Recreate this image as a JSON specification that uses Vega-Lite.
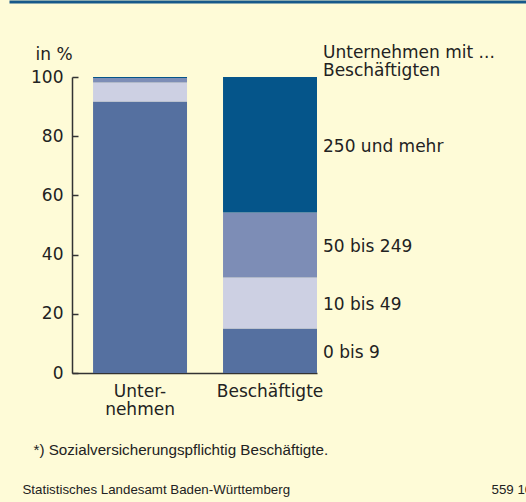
{
  "$schema": "https://vega.github.io/schema/vega-lite/v6.json",
  "width": 245,
  "height": 296,
  "autosize": "none",
  "padding": {"left": 72, "top": 77, "right": 209, "bottom": 129},
  "background": "#fefbd7",
  "config": {"view": {"stroke": null}},
  "title": {
    "text": ["Unternehmen mit ...", "Beschäftigten"],
    "anchor": "start",
    "frame": "group",
    "dx": 251,
    "offset": -91,
    "baseline": "alphabetic",
    "font": "DejaVu Sans",
    "fontSize": 17,
    "fontWeight": "normal",
    "color": "#222222",
    "lineHeight": 18
  },
  "data": {
    "values": [
      {"cat": "Unternehmen", "size": "0 bis 9", "rank": 1, "value": 91.7},
      {"cat": "Unternehmen", "size": "10 bis 49", "rank": 2, "value": 6.4},
      {"cat": "Unternehmen", "size": "50 bis 249", "rank": 3, "value": 1.6},
      {"cat": "Unternehmen", "size": "250 und mehr", "rank": 4, "value": 0.3},
      {"cat": "Beschäftigte", "size": "0 bis 9", "rank": 1, "value": 15.0},
      {"cat": "Beschäftigte", "size": "10 bis 49", "rank": 2, "value": 17.3},
      {"cat": "Beschäftigte", "size": "50 bis 249", "rank": 3, "value": 21.9},
      {"cat": "Beschäftigte", "size": "250 und mehr", "rank": 4, "value": 45.8}
    ]
  },
  "resolve": {
    "scale": {"x": "independent", "y": "independent"},
    "axis": {"x": "independent", "y": "independent"}
  },
  "layer": [
    {
      "mark": {"type": "bar"},
      "encoding": {
        "x": {
          "field": "cat",
          "type": "nominal",
          "sort": ["Unternehmen", "Beschäftigte"],
          "scale": {"domain": ["Unternehmen", "Beschäftigte"], "paddingInner": 0.277, "paddingOuter": 0.081, "align": 1},
          "axis": {
            "orient": "bottom",
            "ticks": false,
            "domainColor": "#333333",
            "domainWidth": 1.5,
            "labelAngle": 0,
            "labelFont": "DejaVu Sans",
            "labelFontSize": 17,
            "labelColor": "#222222",
            "labelPadding": 10,
            "labelBaseline": "top",
            "labelLineHeight": 18,
            "labelExpr": "datum.value == 'Unternehmen' ? ['Unter-', 'nehmen'] : datum.value",
            "title": "*) Sozialversicherungspflichtig Beschäftigte.",
            "titleFont": "Liberation Sans",
            "titleFontSize": 15.2,
            "titleFontWeight": "normal",
            "titleColor": "#222222",
            "titleAlign": "left",
            "titleBaseline": "middle",
            "titleAnchor": "start",
            "titleX": -39,
            "titleY": 76
          }
        },
        "y": {
          "field": "value",
          "type": "quantitative",
          "stack": "zero",
          "scale": {"domain": [0, 100], "nice": false},
          "axis": {
            "orient": "left",
            "values": [0, 20, 40, 60, 80, 100],
            "grid": false,
            "tickSize": -6,
            "tickColor": "#333333",
            "tickWidth": 1.5,
            "domainColor": "#333333",
            "domainWidth": 1.5,
            "labelFont": "DejaVu Sans",
            "labelFontSize": 17,
            "labelColor": "#222222",
            "labelPadding": 15,
            "title": "in %",
            "titleAngle": 0,
            "titleFont": "DejaVu Sans",
            "titleFontSize": 17,
            "titleFontWeight": "normal",
            "titleColor": "#222222",
            "titleAlign": "left",
            "titleBaseline": "middle",
            "titleX": -37,
            "titleY": -23
          }
        },
        "color": {
          "field": "size",
          "type": "nominal",
          "scale": {
            "domain": ["0 bis 9", "10 bis 49", "50 bis 249", "250 und mehr"],
            "range": ["#5570a0", "#cdd0e3", "#7d8db6", "#05558a"]
          },
          "legend": null
        },
        "order": {"field": "rank", "type": "quantitative"}
      }
    },
    {
      "transform": [
        {"filter": "datum.cat == 'Beschäftigte'"},
        {"stack": "value", "groupby": ["cat"], "sort": [{"field": "rank"}], "as": ["v0", "v1"]},
        {"fold": ["v0", "v1"], "as": ["edge", "pos"]}
      ],
      "mark": {"type": "text", "align": "left", "baseline": "middle", "dx": 6, "dy": 2, "font": "DejaVu Sans", "fontSize": 17, "color": "#222222"},
      "encoding": {
        "x": {
          "field": "cat",
          "type": "nominal",
          "bandPosition": 1,
          "scale": {"domain": ["Unternehmen", "Beschäftigte"], "paddingInner": 0.277, "paddingOuter": 0.081, "align": 1},
          "axis": null
        },
        "y": {
          "aggregate": "mean",
          "field": "pos",
          "type": "quantitative",
          "scale": {"domain": [0, 100], "nice": false},
          "axis": {
            "orient": "right",
            "domain": false,
            "ticks": false,
            "labels": false,
            "grid": false,
            "title": "Statistisches Landesamt Baden-Württemberg",
            "titleAngle": 0,
            "titleFont": "Liberation Sans",
            "titleFontSize": 13.3,
            "titleFontWeight": "normal",
            "titleColor": "#222222",
            "titleAlign": "left",
            "titleBaseline": "middle",
            "titleX": -295,
            "titleY": 412
          }
        },
        "text": {"field": "size", "type": "nominal"}
      }
    },
    {
      "mark": {"type": "text", "text": ""},
      "encoding": {
        "x": {
          "field": "value",
          "type": "quantitative",
          "scale": {"domain": [0, 100], "range": [-63, 454], "nice": false, "zero": true},
          "axis": {
            "orient": "top",
            "offset": 75.5,
            "domainColor": "#17598a",
            "domainWidth": 3,
            "ticks": false,
            "labels": false,
            "grid": false,
            "title": "559 10",
            "titleFont": "Liberation Sans",
            "titleFontSize": 13.3,
            "titleFontWeight": "normal",
            "titleColor": "#222222",
            "titleAlign": "left",
            "titleBaseline": "middle",
            "titleAnchor": "start",
            "titleX": 419,
            "titleY": 487.5
          }
        }
      }
    }
  ]
}
